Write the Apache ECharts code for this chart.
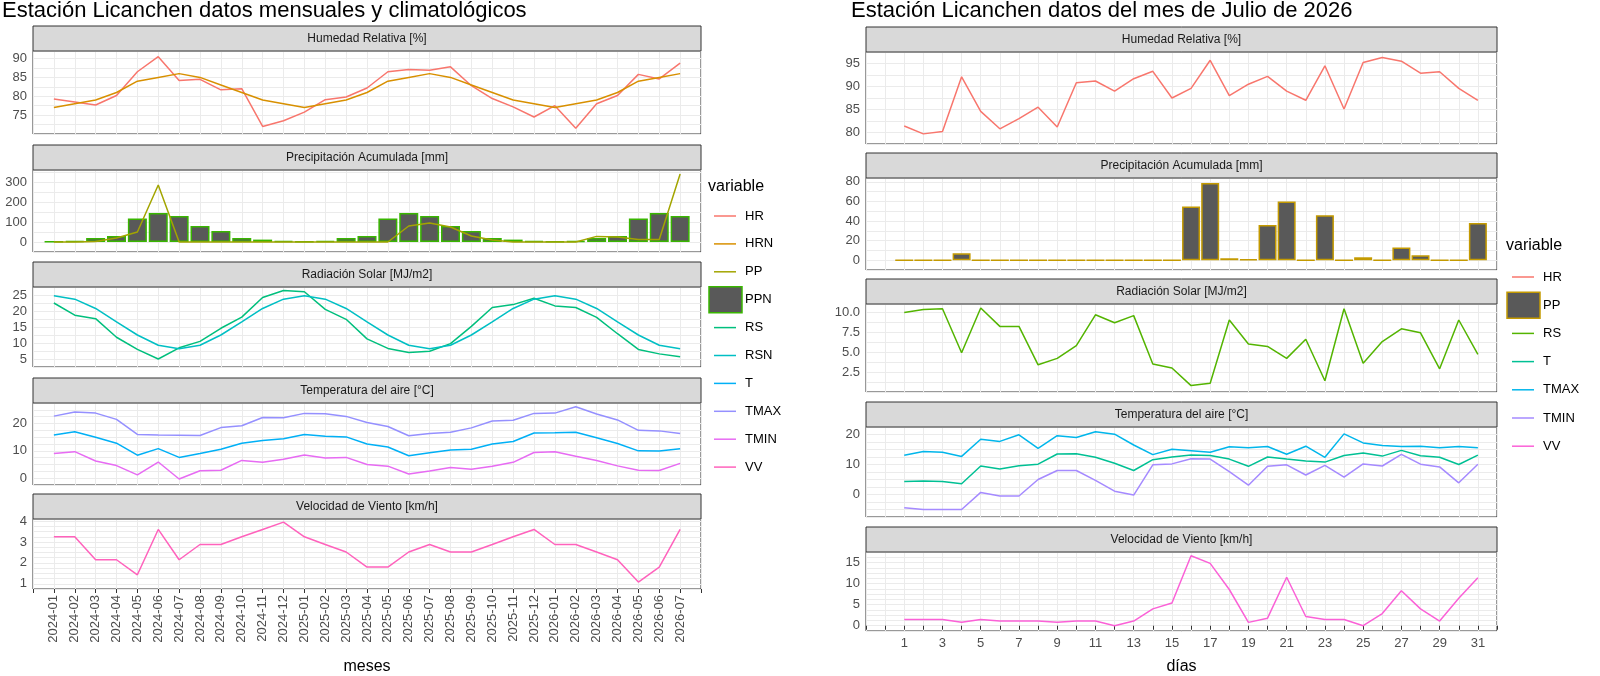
<!DOCTYPE html>
<html><head><meta charset="utf-8">
<script src="https://cdn.jsdelivr.net/npm/echarts@6/dist/echarts.min.js"></script>
<style>html,body{margin:0;padding:0;background:#fff}#c{width:1600px;height:676px}</style>
</head><body><div id="c"></div>
<script>
// ---------- DATA: left (monthly) ----------
const months = ['2024-01','2024-02','2024-03','2024-04','2024-05','2024-06','2024-07','2024-08','2024-09','2024-10','2024-11','2024-12',
 '2025-01','2025-02','2025-03','2025-04','2025-05','2025-06','2025-07','2025-08','2025-09','2025-10','2025-11','2025-12',
 '2026-01','2026-02','2026-03','2026-04','2026-05','2026-06','2026-07'];
const HR_m = [79.3,78.5,77.7,80.2,86.5,90.5,84.2,84.5,81.7,82.0,72.0,73.5,75.8,79.1,79.8,82.2,86.5,87.1,86.9,87.8,82.8,79.4,77.2,74.5,77.5,71.5,78.0,80.2,85.8,84.6,88.8];
const HRN_m = [77,78,79,81,84,85,86,85,83,81,79,78,77,78,79,81,84,85,86,85,83,81,79,78,77,78,79,81,84,85,86];
const PP_m = [0,0,2,20,50,285,0,0,0,0,0,0,0,0,0,0,0,80,95,75,30,10,0,0,0,0,28,25,12,12,340];
const PPN_m = [2,5,20,30,118,145,130,80,55,20,12,5,2,5,20,30,118,145,130,80,55,20,12,5,2,5,20,30,118,145,130];
const RS_m = [22.5,18.7,17.6,11.8,8.0,5.0,8.5,10.5,14.6,18.1,24.2,26.4,26.0,20.5,17.4,11.3,8.3,7.0,7.4,9.8,15.2,21.1,22.0,24.0,21.6,21.1,18.0,12.9,8.0,6.6,5.7];
const RSN_m = [24.8,23.7,20.8,16.6,12.5,9.3,8.2,9.3,12.5,16.6,20.8,23.7,24.8,23.7,20.8,16.6,12.5,9.3,8.2,9.3,12.5,16.6,20.8,23.7,24.8,23.7,20.8,16.6,12.5,9.3,8.2];
const TMAX_m = [22.7,24.2,23.8,21.5,16.0,15.8,15.7,15.6,18.5,19.2,22.2,22.1,23.7,23.6,22.6,20.4,18.9,15.5,16.3,16.8,18.4,20.9,21.2,23.7,23.8,26.1,23.5,21.3,17.5,17.3,16.3];
const T_m = [15.8,17.0,15.0,12.8,8.4,10.8,7.6,9.0,10.6,12.8,13.8,14.4,16.0,15.3,15.1,12.5,11.4,8.2,9.3,10.3,10.6,12.5,13.4,16.5,16.6,16.8,14.8,12.7,10.0,9.9,10.8];
const TMIN_m = [9.0,9.7,6.3,4.6,1.2,5.9,-0.3,2.7,2.9,6.5,5.8,6.9,8.5,7.4,7.6,5.0,4.4,1.5,2.6,3.9,3.3,4.4,5.8,9.4,9.7,8.0,6.5,4.5,2.9,2.8,5.4];
const VV_m = [3.25,3.25,2.15,2.15,1.43,3.6,2.15,2.88,2.88,3.25,3.6,3.95,3.25,2.88,2.52,1.8,1.8,2.52,2.88,2.52,2.52,2.88,3.25,3.6,2.88,2.88,2.52,2.15,1.08,1.8,3.6];
// ---------- DATA: right (daily, July 2026) ----------
const days = [1,2,3,4,5,6,7,8,9,10,11,12,13,14,15,16,17,18,19,20,21,22,23,24,25,26,27,28,29,30,31];
const HR_d = [81.4,79.7,80.2,92.1,84.6,80.8,83.0,85.5,81.2,90.8,91.2,89.0,91.7,93.3,87.5,89.6,95.7,88.0,90.5,92.2,89.0,87.0,94.5,85.1,95.2,96.3,95.5,92.9,93.2,89.6,87.0];
const PP_d = [0,0,0,7,0,0,0,0,0,0,0,0,0,0,0,55,79,2,1,36,60,0,46,0,3,0,13,5,0,0,38];
const RS_d = [9.95,10.3,10.4,4.9,10.5,8.2,8.2,3.4,4.2,5.8,9.65,8.65,9.55,3.5,3.0,0.8,1.1,9.0,6.0,5.7,4.2,6.6,1.4,10.4,3.6,6.3,7.9,7.4,2.9,9.0,4.7];
const TMAX_d = [13.1,14.3,14.1,12.7,18.4,17.7,19.9,15.4,19.6,19.0,20.9,20.1,16.5,13.3,15.1,14.6,14.1,15.9,15.6,16.0,13.4,16.1,12.4,20.2,17.2,16.3,16.0,16.1,15.6,16.0,15.6];
const T_d = [4.3,4.5,4.3,3.6,9.5,8.5,9.6,10.1,13.5,13.6,12.4,10.4,8.0,11.6,12.5,13.2,13.0,11.8,9.4,12.5,11.8,11.2,10.8,13.0,13.8,12.8,14.7,12.9,12.4,10.0,13.1];
const TMIN_d = [-4.4,-5.0,-5.0,-5.0,0.7,-0.5,-0.5,5.0,8.0,8.0,4.7,1.1,-0.2,9.9,10.2,11.9,11.8,7.6,3.1,9.4,9.9,6.5,9.7,5.8,10.2,9.5,13.4,10.1,9.2,3.9,10.1];
const VV_d = [1.5,1.5,1.5,0.8,1.5,1.1,1.1,1.1,0.8,1.1,1.1,0,1.1,4.0,5.4,16.6,14.8,8.6,0.8,1.8,11.5,2.2,1.5,1.5,0,2.9,8.3,4.0,1.1,6.5,11.4];
const stripTitles = ['Humedad Relativa [%]','Precipitación Acumulada [mm]','Radiación Solar [MJ/m2]','Temperatura del aire [°C]','Velocidad de Viento [km/h]'];
const legendLeft = ['HR','HRN','PP','PPN','RS','RSN','T','TMAX','TMIN','VV'];
const legendRight = ['HR','PP','RS','T','TMAX','TMIN','VV'];

// ---------- styling ----------
const CL = {HR:'#F8766D',HRN:'#D89000',PP:'#A3A500',PPN:'#39B600',RS:'#00BF7D',RSN:'#00BFC4',T:'#00B0F6',TMAX:'#9590FF',TMIN:'#E76BF3',VV:'#FF62BC'};
const CR = {HR:'#F8766D',PP:'#C49A00',RS:'#53B400',T:'#00C094',TMAX:'#00B6EB',TMIN:'#A58AFF',VV:'#FB61D7'};
const FONT = 'Liberation Sans, Arial, sans-serif';
const L = {left:33, right:899};
const R = {left:866, right:103};
const SY = 1.0235;
const Lpanels = [[50,131],[166,246],[280,359],[394,474],[507,588]].map(p=>p.map(v=>Math.round(v*SY)));
const Rpanels = [[51,141],[174,264],[297,383],[417,505],[539,628]].map(p=>p.map(v=>Math.round(v*SY)));
const Ly = [[70,92,2.5,5],[-50,360,50,100],[2.5,27.5,2.5,5],[-2.5,27.5,2.5,10],[0.75,4.1,0.25,1]];
const Ry = [[77.5,97.5,2.5,5],[-10,84,10,20],[0,11,1.25,2.5],[-7.5,22.5,2.5,10],[-1.25,17.5,1.25,5]];

const grids=[], xAxes=[], yAxes=[], series=[], graphics=[];
function near(v,step){return Math.abs(v/step-Math.round(v/step))<1e-6;}
function addPanel(side, i){
  const p = side==='L'?Lpanels[i]:Rpanels[i], m = side==='L'?L:R, ys = side==='L'?Ly[i]:Ry[i];
  const gi = grids.length;
  grids.push({left:m.left,right:m.right,top:p[0],height:p[1]-p[0],show:true,borderColor:'#333',borderWidth:1,backgroundColor:'#fff'});
  const last = i===4;
  const x = {type:'value',gridIndex:gi,min:-1,max:side==='L'?31:32,interval:1,
    axisLine:{show:false},axisTick:{show:last,length:4,lineStyle:{color:'#333'}},
    splitLine:{show:true,lineStyle:{color:'#ebebeb',width:1}},
    axisLabel:{show:last,color:'#4d4d4d',fontSize:13,fontFamily:FONT,margin:6,
      formatter: side==='L' ? (v=>(v>=0&&v<=30&&near(v,1))?months[Math.round(v)]:'') : (v=>(v>=1&&v<=31&&Math.round(v)%2===1)?String(Math.round(v)):'')}};
  if(side==='L'&&last){x.axisLabel.rotate=90;x.name='meses';x.nameLocation='middle';x.nameGap=70;x.nameTextStyle={fontSize:16,color:'#000',fontFamily:FONT};}
  if(side==='R'&&last){x.name='días';x.nameLocation='middle';x.nameGap=28;x.nameTextStyle={fontSize:16,color:'#000',fontFamily:FONT};}
  xAxes.push(x);
  const lo=ys[0], hi=ys[1], maj=ys[3];
  yAxes.push({type:'value',gridIndex:gi,min:lo,max:hi,interval:ys[2],
    axisLine:{show:false},axisTick:{show:false},
    splitLine:{show:true,lineStyle:{color:'#ebebeb',width:1}},
    axisLabel:{color:'#4d4d4d',fontSize:13,fontFamily:FONT,margin:6,
      formatter:v=>{ if(!near(v,maj)) return ''; if(side==='L'&&i===0&&v<75) return ''; if(side==='R'&&i===0&&v<80) return ''; if(side==='L'&&i===4&&v<1) return ''; if(side==='R'&&i===2&&v<2) return ''; return (side==='R'&&i===2)?v.toFixed(1):String(v);} }});
  graphics.push({type:'rect',shape:{x:m.left,y:p[0]-25,width:1600-m.left-m.right,height:25},style:{fill:'#d9d9d9',stroke:'#333',lineWidth:1},z:10});
  graphics.push({type:'text',x:m.left+(1600-m.left-m.right)/2,y:p[0]-12.5,style:{text:stripTitles[i],font:'12px '+FONT,fill:'#1a1a1a',textAlign:'center',textVerticalAlign:'middle'},z:11});
  return gi;
}
function line(gi,xs,ys,name,color){series.push({type:'line',name,xAxisIndex:gi,yAxisIndex:gi,data:xs.map((x,k)=>[x,ys[k]]),symbol:'none',lineStyle:{color,width:1.5},itemStyle:{color},z:3});}
function bar(gi,xs,ys,name,fill,border,w){series.push({type:'bar',name,xAxisIndex:gi,yAxisIndex:gi,data:xs.map((x,k)=>[x,ys[k]]),barWidth:w,itemStyle:{color:fill,borderColor:border,borderWidth:1.5},z:2});}
const idx = months.map((_,k)=>k);
let g;
g=addPanel('L',0); line(g,idx,HR_m,'HR',CL.HR); line(g,idx,HRN_m,'HRN',CL.HRN);
g=addPanel('L',1); bar(g,idx,PPN_m,'PPN','#595959',CL.PPN,19); line(g,idx,PP_m,'PP',CL.PP);
g=addPanel('L',2); line(g,idx,RS_m,'RS',CL.RS); line(g,idx,RSN_m,'RSN',CL.RSN);
g=addPanel('L',3); line(g,idx,TMAX_m,'TMAX',CL.TMAX); line(g,idx,T_m,'T',CL.T); line(g,idx,TMIN_m,'TMIN',CL.TMIN);
g=addPanel('L',4); line(g,idx,VV_m,'VV',CL.VV);
g=addPanel('R',0); line(g,days,HR_d,'HR',CR.HR);
g=addPanel('R',1); bar(g,days,PP_d,'PP','#595959',CR.PP,18);
g=addPanel('R',2); line(g,days,RS_d,'RS',CR.RS);
g=addPanel('R',3); line(g,days,TMAX_d,'TMAX',CR.TMAX); line(g,days,T_d,'T',CR.T); line(g,days,TMIN_d,'TMIN',CR.TMIN);
g=addPanel('R',4); line(g,days,VV_d,'VV',CR.VV);

graphics.push({type:'text',x:2,y:0,style:{text:'Estación Licanchen datos mensuales y climatológicos',font:'22px '+FONT,fill:'#000'}});
graphics.push({type:'text',x:851,y:0,style:{text:'Estación Licanchen datos del mes de Julio de 2026',font:'22px '+FONT,fill:'#000'}});
function legend(x0,yTitle,yStart,step,names,colors,boxName){
  graphics.push({type:'text',x:x0,y:yTitle,style:{text:'variable',font:'16px '+FONT,fill:'#000',textVerticalAlign:'middle'}});
  let y=yStart;
  names.forEach(n=>{
    if(n===boxName){
      graphics.push({type:'rect',shape:{x:x0+1,y:y-13,width:33,height:26},style:{fill:'#595959',stroke:colors[n],lineWidth:1.5}});
    } else {
      graphics.push({type:'line',shape:{x1:x0+6,y1:y,x2:x0+28,y2:y},style:{stroke:colors[n],lineWidth:1.5}});
    }
    graphics.push({type:'text',x:x0+37,y:y,style:{text:n,font:'13px '+FONT,fill:'#000',textVerticalAlign:'middle'}});
    y+=step;
  });
}
legend(708,187,216,27.9,legendLeft,CL,'PPN');
legend(1506,246,277,28.2,legendRight,CR,'PP');

const chart = echarts.init(document.getElementById('c'),null,{renderer:'canvas'});
chart.setOption({animation:false,grid:grids,xAxis:xAxes,yAxis:yAxes,series,graphic:graphics});
</script></body></html>
